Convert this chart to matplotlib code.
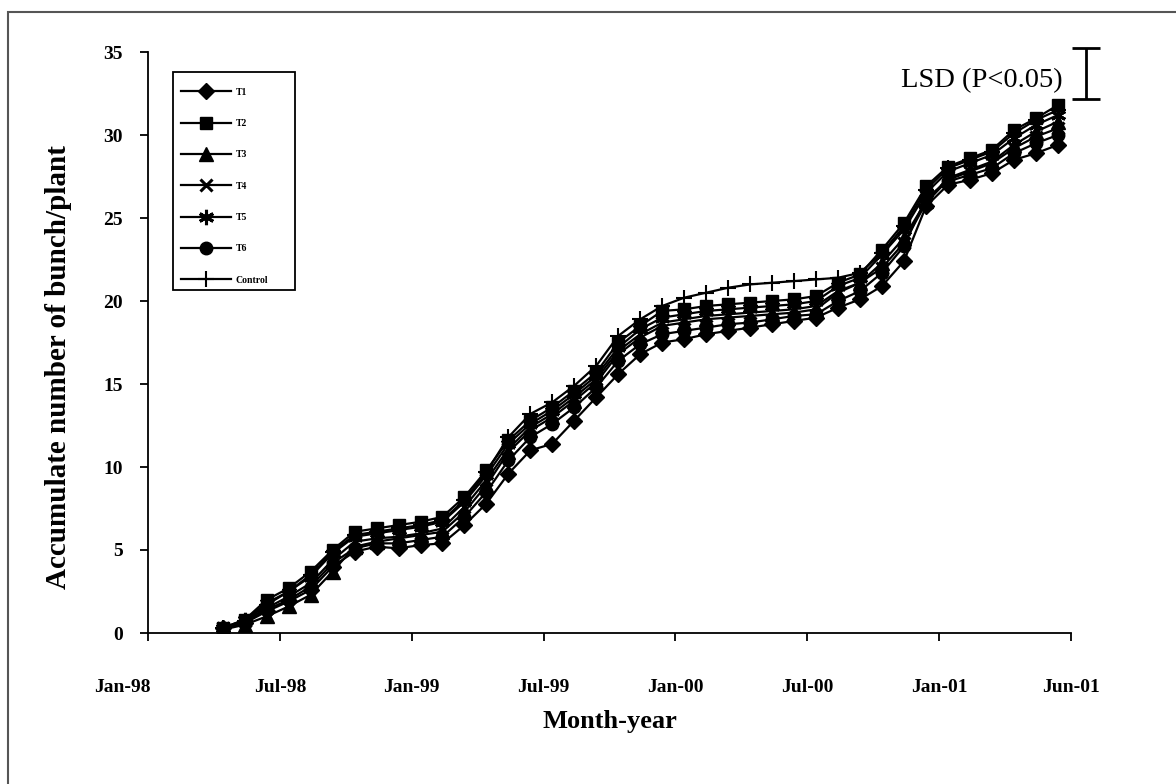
import numpy as np
import pandas as pd
import matplotlib
matplotlib.use("Agg")
import matplotlib.pyplot as plt
from matplotlib.patches import Rectangle
from matplotlib.transforms import ScaledTranslation

plt.rcParams["font.family"] = ["Liberation Serif", "DejaVu Serif"]

# monthly sampling dates (13th of each month), Apr-98 .. Jun-01
dates = pd.date_range("1998-04-01", periods=39, freq="MS") + pd.Timedelta(days=12)

t1 = [0.3, 0.6, 1.3, 1.9, 2.6, 4.0, 4.9, 5.2, 5.1, 5.3, 5.4, 6.5, 7.8, 9.6, 11.0, 11.4,
      12.8, 14.2, 15.6, 16.8, 17.5, 17.7, 18.0, 18.2, 18.4, 18.6, 18.8, 19.0, 19.6, 20.1,
      20.9, 22.4, 25.7, 27.0, 27.3, 27.7, 28.5, 28.9, 29.4]
t2 = [0.3, 0.8, 2.0, 2.7, 3.7, 5.0, 6.1, 6.3, 6.5, 6.7, 7.0, 8.2, 9.8, 11.6, 12.8, 13.6,
      14.6, 15.7, 17.5, 18.5, 19.4, 19.5, 19.7, 19.8, 19.9, 20.0, 20.1, 20.3, 21.1, 21.6,
      23.1, 24.7, 26.9, 28.1, 28.6, 29.1, 30.3, 31.0, 31.8]
t3 = [0.2, 0.5, 1.0, 1.6, 2.3, 3.7, 5.2, 5.5, 5.7, 5.9, 6.1, 7.3, 8.9, 10.9, 12.2, 13.0,
      14.0, 15.1, 16.8, 17.8, 18.5, 18.7, 18.9, 19.0, 19.1, 19.2, 19.3, 19.5, 20.5, 21.1,
      22.3, 23.8, 26.0, 27.4, 27.9, 28.4, 29.4, 30.2, 30.8]
t4 = [0.3, 0.7, 1.5, 2.2, 3.0, 4.4, 5.5, 5.7, 5.8, 6.0, 6.3, 7.6, 9.2, 11.1, 12.4, 13.2,
      14.2, 15.3, 17.0, 18.0, 18.7, 18.9, 19.1, 19.2, 19.3, 19.4, 19.5, 19.7, 20.6, 21.1,
      22.0, 23.5, 25.9, 27.3, 27.8, 28.3, 29.2, 29.9, 30.4]
t5 = [0.3, 0.8, 1.8, 2.5, 3.4, 4.8, 5.8, 6.0, 6.2, 6.4, 6.7, 7.9, 9.5, 11.4, 12.6, 13.4,
      14.4, 15.5, 17.2, 18.3, 19.0, 19.2, 19.4, 19.5, 19.6, 19.7, 19.8, 20.0, 20.9, 21.4,
      22.8, 24.3, 26.5, 27.8, 28.3, 28.8, 29.8, 30.6, 31.2]
t6 = [0.3, 0.6, 1.4, 2.0, 2.8, 4.2, 5.1, 5.4, 5.4, 5.6, 5.8, 7.0, 8.5, 10.4, 11.8, 12.6,
      13.6, 14.8, 16.4, 17.4, 18.0, 18.2, 18.4, 18.6, 18.7, 18.9, 19.1, 19.2, 20.0, 20.6,
      21.7, 23.3, 26.2, 27.2, 27.6, 28.0, 28.9, 29.5, 30.0]
control = [0.3, 0.7, 1.7, 2.5, 3.5, 4.9, 5.9, 6.1, 6.3, 6.5, 6.8, 8.0, 9.7, 11.8, 13.2, 13.9,
           14.9, 16.1, 17.9, 18.9, 19.7, 20.2, 20.5, 20.8, 21.0, 21.1, 21.2, 21.3, 21.4, 21.7,
           22.9, 24.5, 26.7, 28.0, 28.5, 29.0, 30.1, 30.9, 31.5]

tick_months = [0, 6, 12, 18, 24, 30, 36, 42]
tick_labels = ["Jan-98", "Jul-98", "Jan-99", "Jul-99", "Jan-00", "Jul-00", "Jan-01", "Jun-01"]
lsd = 3.1

# months elapsed since 1 Jan 1998
x = (dates.year - 1998) * 12 + (dates.month - 1) + (dates.day - 1) / 30.0

fig = plt.figure(figsize=(11.76, 7.84), dpi=100)
ax = fig.add_axes([148 / 1176, 1 - 633 / 784, (1071 - 148) / 1176, (633 - 52) / 784])

styles = [
    ("T1", t1, dict(marker="D", ms=8)),
    ("T2", t2, dict(marker="s", ms=9)),
    ("T3", t3, dict(marker="^", ms=10)),
    ("T4", t4, dict(marker="x", ms=9, mew=2.2)),
    ("T5", t5, dict(marker=(6, 2, 0), ms=11, mew=2.2)),
    ("T6", t6, dict(marker="o", ms=9)),
    ("Control", control, dict(marker="+", ms=12, mew=1.5)),
]
for name, vals, kw in styles:
    ax.plot(x, vals, color="black", lw=1.6, label=name, **kw)

ax.set_xlim(0, 42)
ax.set_ylim(0, 35)
ax.set_xticks(tick_months)
ax.set_xticklabels(tick_labels)
ax.set_yticks(range(0, 36, 5))
ax.spines["top"].set_visible(False)
ax.spines["right"].set_visible(False)
for s in ("left", "bottom"):
    ax.spines[s].set_linewidth(1.3)
ax.tick_params(direction="out", length=6, width=1.3, labelsize=14)
for lab in ax.get_xticklabels() + ax.get_yticklabels():
    lab.set_fontweight("bold")
ax.tick_params(axis="x", pad=27)
ax.tick_params(axis="y", pad=12)
# first date label sits left of the axis corner
first = ax.get_xticklabels()[0]
first.set_transform(first.get_transform() + ScaledTranslation(-26 / 100, 0, fig.dpi_scale_trans))

ax.set_xlabel("Month-year", fontsize=19, fontweight="bold", labelpad=10)
ax.set_ylabel("Accumulate number of bunch/plant", fontsize=21, fontweight="bold")
ax.yaxis.set_label_coords(-0.082, 0.458)

# LSD bar beyond the right end of the axis
ax.errorbar([42.7], [35.25 - lsd / 2], yerr=[lsd / 2], color="black", capsize=10,
            elinewidth=2, capthick=2, clip_on=False)
ax.text(41.6, 33.3, "LSD (P<0.05)", fontsize=20.5, ha="right", va="center")

leg = ax.legend(loc="upper left", bbox_to_anchor=(166 / 1176, 1 - 73 / 784),
                bbox_transform=fig.transFigure, frameon=False,
                prop={"weight": "bold", "size": 7}, handlelength=5.2,
                labelspacing=2.3, borderpad=1.0, handletextpad=0.5)
# legend frame, wider than its contents
fig.patches.append(Rectangle((173 / 1176, 1 - 290 / 784), 122 / 1176, 218 / 784,
                             transform=fig.transFigure, fill=False,
                             edgecolor="black", lw=1.3, zorder=5))

# chart area border
fig.patches.append(Rectangle((8 / 1176, -0.02), 1.02, 1 - 12 / 784 + 0.02,
                             transform=fig.transFigure, fill=False,
                             edgecolor="#555555", lw=1.5))

fig.savefig("out.png", dpi=100)
